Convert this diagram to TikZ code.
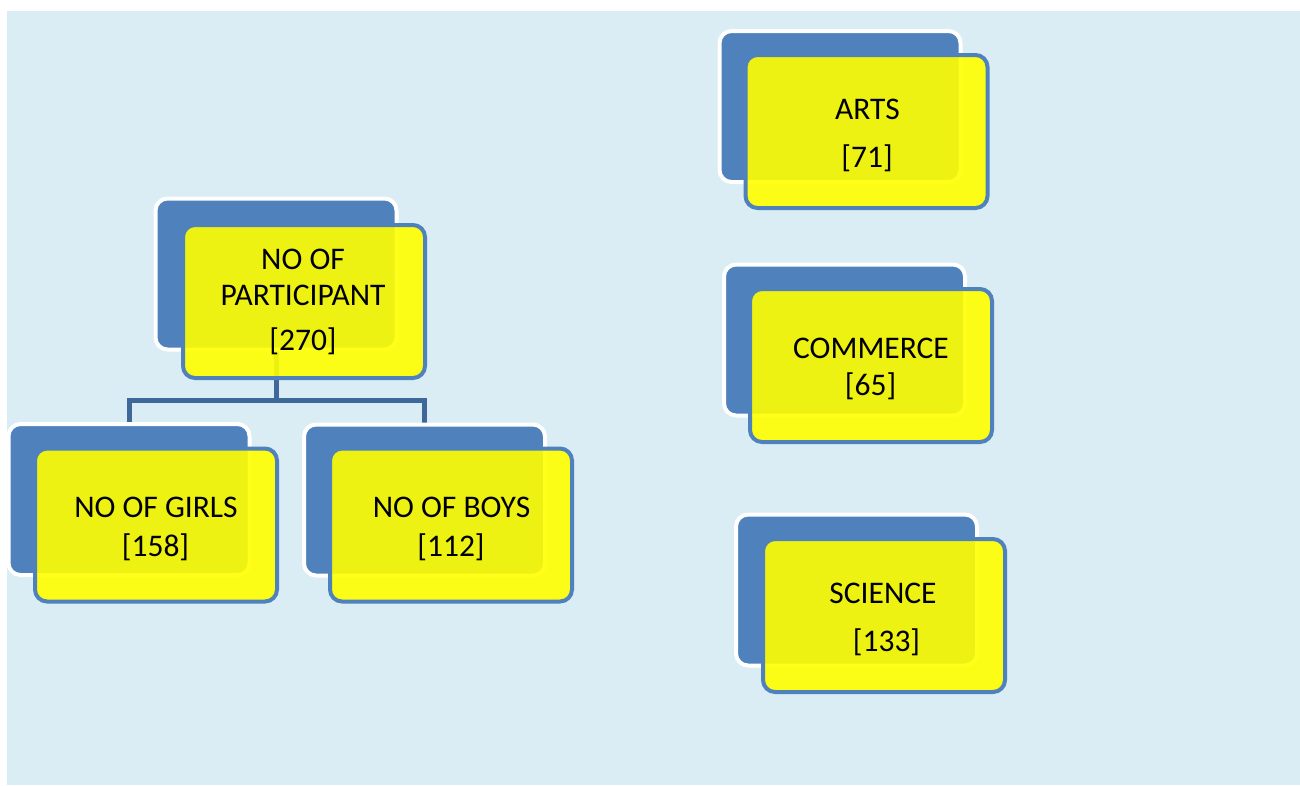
\documentclass[tikz,border=0pt]{standalone}
\usepackage{fontspec}
\setmainfont{Carlito}
\definecolor{bgblue}{RGB}{218,236,244}
\definecolor{boxblue}{RGB}{79,129,189}
\definecolor{connblue}{RGB}{62,104,153}
\definecolor{boxyellow}{RGB}{255,255,0}
\tikzset{
  backbox/.style={rectangle, rounded corners=12pt, minimum width=241pt, minimum height=151pt,
    inner sep=0pt, outer sep=0pt, fill=boxblue, draw=white, line width=4pt},
  frontbox/.style={rectangle, rounded corners=12pt, minimum width=242pt, minimum height=153pt,
    inner sep=0pt, outer sep=0pt, fill=boxyellow, fill opacity=0.9, draw=boxblue, draw opacity=1, line width=4pt},
  txt/.style={anchor=base, inner sep=0pt, font=\fontsize{31.5}{37}\selectfont, text=black},
  conn/.style={draw=connblue, line width=5pt}
}
\begin{document}
\begin{tikzpicture}[x=1pt,y=-1pt]
\useasboundingbox (0,0) rectangle (1300,785);
\fill[bgblue] (7,11) rectangle (1300,785);

% back boxes positions
\coordinate (partC) at (276,274);
\coordinate (girlsC) at (129,499.5);
\coordinate (boysC) at (424.5,500);
\coordinate (split) at (276,400);

% connectors (behind boxes)
\draw[conn] (partC) -- (split);
\draw[conn] (girlsC) |- (split) -| (boysC);

% back boxes
\node[backbox] (partB) at (partC) {};
\node[backbox] (girlsB) at (girlsC) {};
\node[backbox] (boysB) at (boysC) {};
\node[backbox] (artsB) at (840,106.5) {};
\node[backbox] (commB) at (844.5,340) {};
\node[backbox] (sciB) at (856.5,590) {};

% front boxes
\node[frontbox] (partF) at (304,301.5) {};
\node[frontbox] (girlsF) at (156,525) {};
\node[frontbox] (boysF) at (451,525) {};
\node[frontbox] (artsF) at (866.5,131.5) {};
\node[frontbox] (commF) at (871,365.5) {};
\node[frontbox] (sciF) at (884,615.5) {};

% texts
\node[txt] (partT1) at (303,269) {NO OF};
\node[txt] (partT2) at (303,305) {PARTICIPANT};
\node[txt] (partT3) at (303,350) {[270]};
\node[txt] (girlsT1) at (156,517) {NO OF GIRLS};
\node[txt] (girlsT2) at (155.5,556) {[158]};
\node[txt] (boysT1) at (451.5,517) {NO OF BOYS};
\node[txt] (boysT2) at (451,556) {[112]};
\node[txt] (artsT1) at (867.5,119) {ARTS};
\node[txt] (artsT2) at (867,167) {[71]};
\node[txt] (commT1) at (871,358) {COMMERCE};
\node[txt] (commT2) at (870.5,395) {[65]};
\node[txt] (sciT1) at (883,603) {SCIENCE};
\node[txt] (sciT2) at (886.5,651) {[133]};
\end{tikzpicture}
\end{document}
